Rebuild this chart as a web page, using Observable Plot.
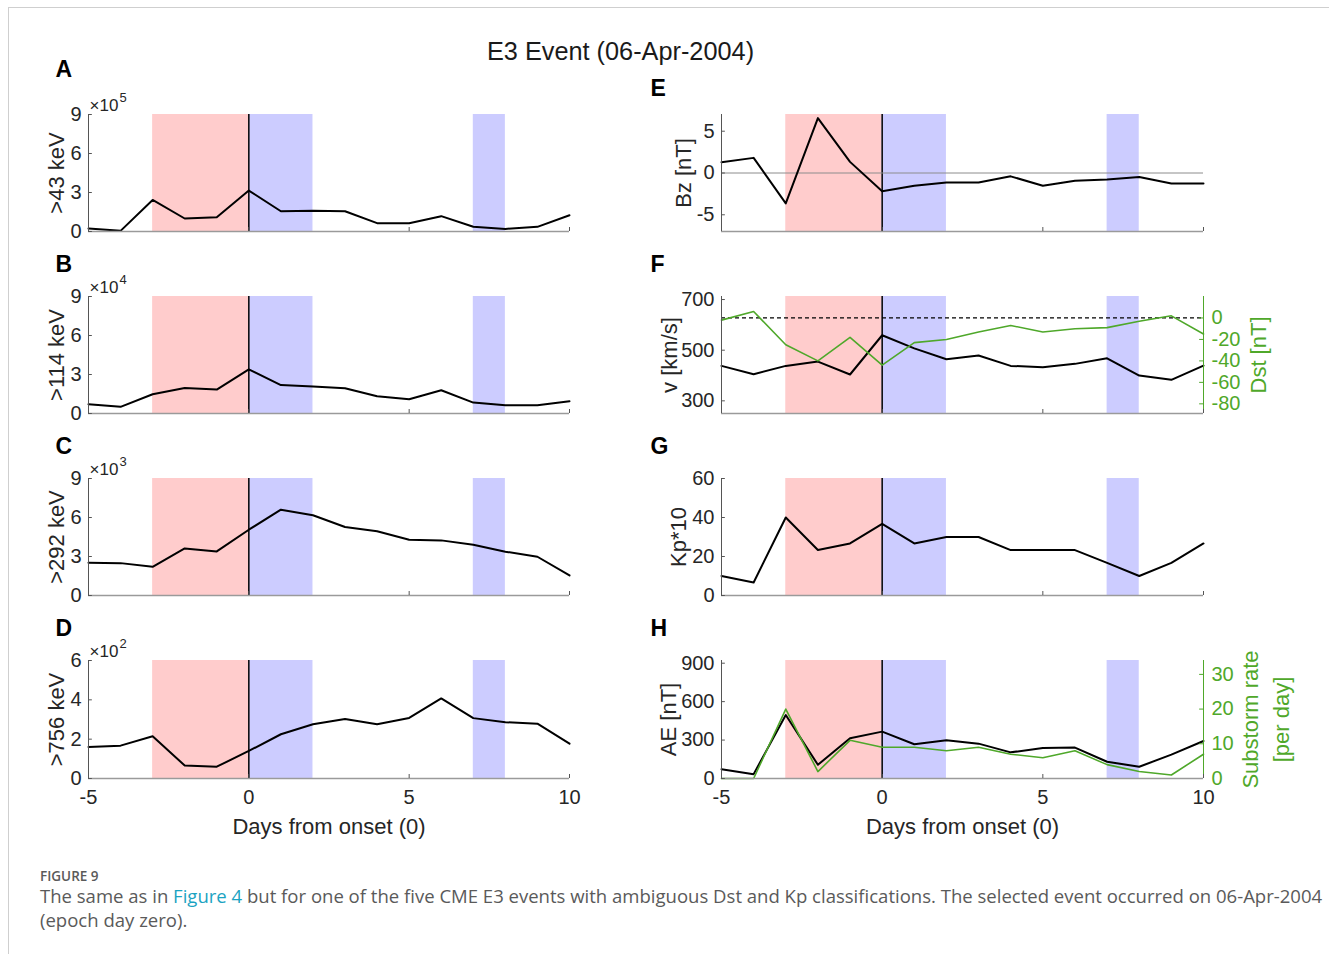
<!DOCTYPE html>
<html><head><meta charset="utf-8">
<script src="https://cdn.jsdelivr.net/npm/d3@7"></script>
<script src="https://cdn.jsdelivr.net/npm/@observablehq/plot@0.6"></script>
<style>
body{margin:0;background:#fff;}
#root{position:relative;width:1329px;height:954px;overflow:hidden;font-family:"Liberation Sans",Arial,sans-serif;background:#fff;}
#frame{position:absolute;left:8px;top:7px;width:1330px;height:960px;border-top:1px solid #cfcfcf;border-left:1px solid #cfcfcf;}
#title{position:absolute;left:0;width:1241px;top:36px;line-height:30px;text-align:center;font-size:25.3px;color:#1a1a1a;}
#root svg{position:absolute;overflow:visible;}
.cap{position:absolute;left:40px;font-family:"Open Sans","Noto Sans",sans-serif;color:#5a5a5a;white-space:nowrap;}
#fig{top:868px;font-size:13.5px;font-weight:600;line-height:16px;}
#captext{top:884px;font-size:18.55px;line-height:24px;}
#captext span{color:#1ba3c2;}
</style></head>
<body><div id="root">
<div id="frame"></div>
<div id="title">E3 Event (06-Apr-2004)</div>
<div class="cap" id="fig">FIGURE 9</div>
<div class="cap" id="captext">The same as in <span>Figure 4</span> but for one of the five CME E3 events with ambiguous Dst and Kp classifications. The selected event occurred on 06-Apr-2004<br>(epoch day zero).</div>
</div>
<script>
// ---------- data ----------
const days = [-5,-4,-3,-2,-1,0,1,2,3,4,5,6,7,8,9,10];
const flux43  = [0.23,0.05,2.43,1.0,1.1,3.15,1.56,1.59,1.56,0.64,0.64,1.18,0.36,0.2,0.36,1.25]; // x10^5
const flux114 = [0.71,0.51,1.48,1.96,1.84,3.39,2.19,2.07,1.94,1.33,1.1,1.79,0.84,0.64,0.64,0.94]; // x10^4
const flux292 = [2.52,2.49,2.21,3.62,3.39,5.06,6.6,6.17,5.27,4.94,4.29,4.24,3.91,3.37,2.98,1.54]; // x10^3
const flux756 = [1.6,1.67,2.15,0.66,0.6,1.4,2.25,2.76,3.03,2.76,3.08,4.07,3.07,2.86,2.79,1.77]; // x10^2
const bz = [1.29,1.81,-3.63,6.57,1.33,-2.18,-1.53,-1.15,-1.13,-0.4,-1.53,-0.93,-0.77,-0.48,-1.25,-1.25];
const vsw = [438,405,438,455,404,559,507,464,479,438,433,446,468,400,383,439];
const dst = [-2,6,-25,-40,-18,-44,-23,-20,-13,-7,-13,-10,-9,-3,2,-15];
const kp10 = [10,6.7,40,23.3,26.7,36.7,26.7,30,30,23.3,23.3,23.3,16.7,10,16.7,26.7];
const ae = [73,34,495,107,314,366,267,298,272,204,238,241,131,92,186,293];
const substorm = [0,0,20,2,11,9,9,8,9,7,6,8,4,2,1,7];

const shadeFrom = [-3, 0, 7];
const shadeTo   = [0, 2, 8];
const shadeKind = ["before", "after", "after"];

const xTicks = [-5, 0, 5, 10];
const fluxTicks = [0, 3, 6, 9];
const flux756Ticks = [0, 2, 4, 6];
const bzTicks = [-5, 0, 5];
const vTicks = [300, 500, 700];
const dstTicks = [-80, -60, -40, -20, 0];
const kpTicks = [0, 20, 40, 60];
const aeTicks = [0, 300, 600, 900];
const substormTicks = [0, 10, 20, 30];

const panelLetters = ["A","B","C","D","E","F","G","H"];
const yLabels = [">43 keV", ">114 keV", ">292 keV", ">756 keV", "Bz [nT]", "v [km/s]", "Kp*10", "AE [nT]"];
const exponents = ["5", "4", "3", "2"];
const xLabel = "Days from onset (0)";
const dstLabel = "Dst [nT]";
const substormLabel = ["Substorm rate", "[per day]"];

// ---------- styles ----------
const C = {pre:"#ffcccc", post:"#ccccff", axisL:"#555", axisB:"#9a9a9a", ink:"#262626", green:"#4fa82a"};
const FONT = '"Liberation Sans", Arial, sans-serif';

const shades = shadeFrom.map((f,i)=>({from:f, to:shadeTo[i], kind:shadeKind[i]}));
const root = document.getElementById("root");

function panel(cfg) {
  const {col, row, series, yDomain, yTicks, idx, labelDx, exp, extra = [], right = null} = cfg;
  const left = col === 0 ? 0 : 640;
  const width = col === 0 ? 640 : 689;
  const mL = col === 0 ? 88 : 81;
  const mR = col === 0 ? 71 : 126;
  const frameTop = [114, 296, 478, 660][row];
  const frameH = row === 3 ? 118 : 117;
  const mT = 50, mB = row === 3 ? 75 : 12;
  const [y0, y1] = yDomain;
  const rows = days.map((d,i)=>({day:d, v:series[i]}));
  const tickLen = (y1 - y0) * 4 / frameH;
  const marks = [
    Plot.rect(shades, {x1:"from", x2:"to", y1: () => y0, y2: () => y1, fill:"kind"}),
    Plot.ruleX([0], {stroke:"#000", strokeWidth:1.5}),
    ...extra,
    Plot.line(rows, {x:"day", y:"v", stroke:"#000", strokeWidth:2}),
    ...(right ? right.marks : []),
    Plot.ruleY([y0], {stroke:C.axisB, strokeWidth:1.6}),
    Plot.ruleX([-5], {stroke:C.axisL, strokeWidth:1}),
    Plot.ruleX(xTicks, {y1: () => y0, y2: () => y0 + tickLen, stroke:C.axisL}),
    Plot.ruleY(yTicks, {x1: () => -5, x2: () => -5 + 0.12, stroke:C.axisL}),
    Plot.text(yTicks, {y: d => d, text: d => String(d), frameAnchor:"left", dx:-7, textAnchor:"end", lineAnchor:"middle", fontSize:20, fill:C.ink}),
    Plot.text([yLabels[idx]], {frameAnchor:"left", dx: labelDx, rotate:-90, textAnchor:"middle", lineAnchor:"middle", fontSize:22, fill:C.ink}),
    Plot.text([panelLetters[idx]], {frameAnchor:"top-left", dx: col === 0 ? -33 : -71, dy: [-38, -25, -25, -25][row] - (col === 1 && row === 0 ? -19 : 0), textAnchor:"start", lineAnchor:"bottom", fontSize:23, fontWeight:"bold", fill:"#000"})
  ];
  if (exp) {
    marks.push(Plot.text(["×10"], {frameAnchor:"top-left", dx:1, dy:-4, textAnchor:"start", lineAnchor:"bottom", fontSize:17, fill:C.ink}));
    marks.push(Plot.text([exp], {frameAnchor:"top-left", dx:31, dy:-13, textAnchor:"start", lineAnchor:"bottom", fontSize:13, fill:C.ink}));
  }
  if (row === 3) {
    marks.push(Plot.text(xTicks, {x: d => d, text: d => String(d), frameAnchor:"bottom", dy:19, lineAnchor:"middle", fontSize:20, fill:C.ink}));
    marks.push(Plot.text([xLabel], {frameAnchor:"bottom", dy:48, lineAnchor:"middle", fontSize:22, fill:C.ink}));
  }
  const svg = Plot.plot({
    width, height: mT + frameH + mB,
    marginLeft: mL, marginRight: mR, marginTop: mT, marginBottom: mB,
    x: {domain:[-5, 10], axis:null},
    y: {domain:yDomain, axis:null},
    color: {domain:["before","after"], range:[C.pre, C.post]},
    style: {fontFamily: FONT, background:"transparent", overflow:"visible"},
    marks
  });
  svg.style.left = left + "px";
  svg.style.top = (frameTop - mT) + "px";
  root.appendChild(svg);
}

function rightAxis(yDomain, rDomain, rTicks, rSeries, labels) {
  const map = r => yDomain[0] + (r - rDomain[0]) / (rDomain[1] - rDomain[0]) * (yDomain[1] - yDomain[0]);
  const rows = days.map((d,i)=>({day:d, v:map(rSeries[i])}));
  const ticks = rTicks.map(t => ({pos: map(t), label: String(t)}));
  const marks = [
    Plot.line(rows, {x:"day", y:"v", stroke:C.green, strokeWidth:1.6}),
    Plot.ruleX([10], {stroke:C.green, strokeWidth:1}),
    Plot.ruleY(ticks, {y:"pos", x1: () => 10 - 0.12, x2: () => 10, stroke:C.green}),
    Plot.text(ticks, {y:"pos", text:"label", frameAnchor:"right", dx:8, textAnchor:"start", lineAnchor:"middle", fontSize:20, fill:C.green}),
    ...labels.map(l => Plot.text([l.text], {frameAnchor:"right", dx:l.dx, rotate:-90, textAnchor:"middle", lineAnchor:"middle", fontSize:22, fill:C.green}))
  ];
  return {marks, map};
}

// Left column: energetic electron fluxes
panel({col:0, row:0, idx:0, series:flux43,  yDomain:[0,9], yTicks:fluxTicks, labelDx:-32, exp:exponents[0]});
panel({col:0, row:1, idx:1, series:flux114, yDomain:[0,9], yTicks:fluxTicks, labelDx:-32, exp:exponents[1]});
panel({col:0, row:2, idx:2, series:flux292, yDomain:[0,9], yTicks:fluxTicks, labelDx:-32, exp:exponents[2]});
panel({col:0, row:3, idx:3, series:flux756, yDomain:[0,6], yTicks:flux756Ticks, labelDx:-32, exp:exponents[3]});

// Right column
panel({col:1, row:0, idx:4, series:bz, yDomain:[-7,7], yTicks:bzTicks, labelDx:-38,
  extra:[Plot.ruleY([0], {stroke:"#8c8c8c", strokeWidth:1})]});

const vDom = [250, 712], dstDom = [-89, 20];
const fRight = rightAxis(vDom, dstDom, dstTicks, dst, [{text:dstLabel, dx:55}]);
panel({col:1, row:1, idx:5, series:vsw, yDomain:vDom, yTicks:vTicks, labelDx:-52,
  extra:[Plot.ruleY([fRight.map(0)], {stroke:"#000", strokeWidth:1.3, strokeDasharray:"4,3"})],
  right:fRight});

panel({col:1, row:2, idx:6, series:kp10, yDomain:[0,60], yTicks:kpTicks, labelDx:-43});

const aeDom = [0, 921], ssDom = [0, 34];
const hRight = rightAxis(aeDom, ssDom, substormTicks, substorm, [{text:substormLabel[0], dx:47}, {text:substormLabel[1], dx:78}]);
panel({col:1, row:3, idx:7, series:ae, yDomain:aeDom, yTicks:aeTicks, labelDx:-53, right:hRight});
</script>
</body></html>
